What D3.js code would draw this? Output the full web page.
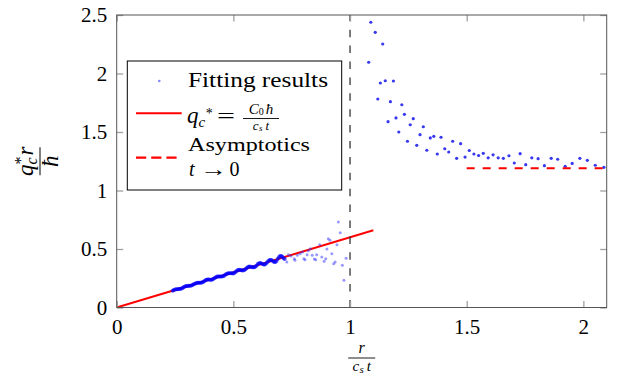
<!DOCTYPE html>
<html><head><meta charset="utf-8">
<script src="https://cdn.jsdelivr.net/npm/d3@7"></script>
<style>
body{margin:0;background:#fff}svg{display:block}
svg text{font-family:"Liberation Serif","DejaVu Serif","Times New Roman",Times,serif;}
</style>
</head><body>
<svg id="c" width="632" height="376"></svg>
<script>
// ---- data ----
const xTicks = [0, 0.5, 1, 1.5, 2];
const xTickLabels = ["0", "0.5", "1", "1.5", "2"];
const yTicks = [0, 0.5, 1, 1.5, 2, 2.5];
const yTickLabels = ["0", "0.5", "1", "1.5", "2", "2.5"];

const denseX = [0.240,0.245,0.250,0.255,0.260,0.265,0.270,0.275,0.280,0.285,0.290,0.295,0.300,0.305,0.310,0.315,0.320,0.325,0.330,0.335,0.340,0.345,0.350,0.355,0.360,0.365,0.370,0.375,0.380,0.385,0.390,0.395,0.400,0.405,0.410,0.415,0.420,0.425,0.430,0.435,0.440,0.445,0.450,0.455,0.460,0.465,0.470,0.475,0.480,0.485,0.490,0.495,0.500,0.505,0.510,0.515,0.520,0.525,0.530,0.535,0.540,0.545,0.550,0.555,0.560,0.565,0.570,0.575,0.580,0.585,0.590,0.595,0.600,0.605,0.610,0.615,0.620,0.625,0.630,0.635,0.640,0.645,0.650,0.655,0.660,0.665,0.670,0.675,0.680,0.685,0.690,0.695,0.700,0.705,0.710,0.715,0.720];
const denseY = [0.144,0.150,0.154,0.157,0.157,0.158,0.159,0.161,0.165,0.171,0.177,0.181,0.184,0.184,0.185,0.186,0.188,0.192,0.198,0.204,0.208,0.211,0.212,0.211,0.211,0.213,0.218,0.225,0.232,0.237,0.239,0.239,0.238,0.238,0.240,0.245,0.252,0.259,0.264,0.266,0.266,0.265,0.265,0.267,0.272,0.279,0.286,0.291,0.293,0.293,0.292,0.292,0.291,0.297,0.306,0.315,0.321,0.323,0.321,0.318,0.316,0.318,0.324,0.333,0.342,0.348,0.350,0.348,0.345,0.343,0.345,0.351,0.360,0.371,0.379,0.380,0.376,0.371,0.367,0.368,0.376,0.387,0.398,0.406,0.407,0.403,0.395,0.388,0.388,0.398,0.414,0.430,0.440,0.440,0.433,0.422,0.415];

const scatterX = [0.729,0.736,0.747,0.761,0.764,0.774,0.786,0.796,0.802,0.807,0.816,0.821,0.830,0.838,0.847,0.853,0.857,0.870,0.879,0.889,0.896,0.901,0.907,0.914,0.922,0.930,0.936,0.944,0.950,0.958,0.967,0.974,0.983];
const scatterY = [0.389,0.451,0.440,0.417,0.403,0.446,0.460,0.474,0.417,0.409,0.451,0.485,0.503,0.446,0.415,0.409,0.451,0.537,0.432,0.395,0.417,0.500,0.588,0.574,0.460,0.374,0.389,0.537,0.731,0.639,0.361,0.232,0.421];

const upperX = [1.080,1.089,1.108,1.119,1.130,1.140,1.151,1.163,1.173,1.186,1.197,1.209,1.222,1.233,1.246,1.258,1.271,1.286,1.300,1.314,1.329,1.344,1.359,1.374,1.390,1.406,1.423,1.440,1.457,1.474,1.493,1.511,1.531,1.551,1.571,1.592,1.613,1.635,1.657,1.681,1.704,1.729,1.753,1.779,1.806,1.833,1.862,1.890,1.922,1.952,1.985,2.017,2.051,2.088];
const upperY = [2.096,2.438,2.352,1.782,1.919,2.252,1.938,1.588,1.759,1.936,1.620,1.500,1.733,1.651,1.421,1.562,1.614,1.386,1.477,1.545,1.344,1.449,1.463,1.312,1.455,1.357,1.329,1.421,1.275,1.400,1.286,1.342,1.312,1.299,1.318,1.279,1.305,1.279,1.275,1.297,1.235,1.315,1.221,1.279,1.272,1.212,1.275,1.267,1.207,1.231,1.275,1.258,1.216,1.198];

const fitLineX = [0, 1.1];
const fitLineY = [0, 0.66];
const asymX = [1.5, 2.1];
const asymY = [1.19, 1.19];
const vlineX = [1, 1];
const vlineY = [0, 2.5];

// ---- chart ----
const svg = d3.select("#c");
const L = 116.7, R = 606.7, T = 15, B = 307.5;
const x = d3.scaleLinear().domain([0, 2.1]).range([L, R]);
const y = d3.scaleLinear().domain([0, 2.5]).range([B, T]);

svg.append("defs").append("clipPath").attr("id", "clip")
  .append("rect").attr("x", L).attr("y", T).attr("width", R - L).attr("height", B - T);

const line = d3.line().x(d => x(d[0])).y(d => y(d[1]));
const plot = svg.append("g").attr("clip-path", "url(#clip)");

// red fit line
plot.append("path").datum(d3.zip(fitLineX, fitLineY)).attr("d", line)
  .attr("stroke", "#ff0000").attr("stroke-width", 2).attr("fill", "none");

// fitting results
plot.append("g").selectAll("circle").data(d3.zip(denseX, denseY)).join("circle")
  .attr("cx", d => x(d[0])).attr("cy", d => y(d[1])).attr("r", 2)
  .attr("fill", "#0000ff").attr("fill-opacity", 0.65);
plot.append("g").selectAll("circle").data(d3.zip(scatterX, scatterY)).join("circle")
  .attr("cx", d => x(d[0])).attr("cy", d => y(d[1])).attr("r", 1.5)
  .attr("fill", "#3333ff").attr("fill-opacity", 0.5);
plot.append("g").selectAll("circle").data(d3.zip(upperX, upperY)).join("circle")
  .attr("cx", d => x(d[0])).attr("cy", d => y(d[1])).attr("r", 1.6)
  .attr("fill", "#2222ee").attr("fill-opacity", 0.9);

// asymptote
plot.append("path").datum(d3.zip(asymX, asymY)).attr("d", line)
  .attr("stroke", "#ff0000").attr("stroke-width", 2.2).attr("fill", "none")
  .attr("stroke-dasharray", "8,8");

// vertical dashed
plot.append("path").datum(d3.zip(vlineX, vlineY)).attr("d", line)
  .attr("stroke", "#333").attr("stroke-width", 1.3).attr("fill", "none")
  .attr("stroke-dasharray", "7.5,8.4");

// axes
function styleAxis(g) {
  g.attr("font-family", null);
  g.select(".domain").remove();
  g.selectAll(".tick line").attr("stroke", "#a0a0a0").attr("stroke-width", 1.3);
  g.selectAll(".tick text").attr("font-size", 21).attr("fill", "#000");
}
svg.append("g").attr("transform", `translate(0,${B})`)
  .call(d3.axisBottom(x).tickValues(xTicks).tickFormat((d, i) => xTickLabels[i]).tickSizeInner(-6.5).tickSizeOuter(0).tickPadding(12))
  .call(styleAxis);
svg.append("g").attr("transform", `translate(0,${T})`)
  .call(d3.axisTop(x).tickValues(xTicks).tickFormat("").tickSizeInner(-6.5).tickSizeOuter(0))
  .call(styleAxis);
svg.append("g").attr("transform", `translate(${L},0)`)
  .call(d3.axisLeft(y).tickValues(yTicks).tickFormat((d, i) => yTickLabels[i]).tickSizeInner(-6.5).tickSizeOuter(0).tickPadding(9.5))
  .call(styleAxis);
svg.append("g").attr("transform", `translate(${R},0)`)
  .call(d3.axisRight(y).tickValues(yTicks).tickFormat("").tickSizeInner(-6.5).tickSizeOuter(0))
  .call(styleAxis);

svg.append("rect").attr("x", L).attr("y", T).attr("width", R - L).attr("height", B - T)
  .attr("fill", "none").attr("stroke", "#555").attr("stroke-width", 1);

// y label: q_c^* r / ħ
const yl = svg.append("g").attr("transform", `translate(40,${(T + B) / 2}) rotate(-90)`)
  .attr("font-style", "italic");
const ynum = yl.append("text").attr("x", 0).attr("y", -7).attr("text-anchor", "middle").attr("font-size", 23);
ynum.append("tspan").text("q");
ynum.append("tspan").attr("font-size", 16).attr("dy", 4).text("c");
ynum.append("tspan").attr("font-size", 16).attr("dy", -11).attr("dx", -7).attr("font-style", "normal").text("*");
ynum.append("tspan").attr("font-size", 23).attr("dy", 7).attr("dx", 1).text("r");
yl.append("line").attr("x1", -14).attr("x2", 14).attr("y1", 0).attr("y2", 0).attr("stroke", "#000").attr("stroke-width", 1);
yl.append("text").attr("x", 0).attr("y", 18).attr("text-anchor", "middle").attr("font-size", 23).text("ħ");

// x label: r / c_s t
const xc = (L + R) / 2;
const xl = svg.append("g").attr("font-style", "italic");
xl.append("text").attr("x", xc).attr("y", 353).attr("text-anchor", "middle").attr("font-size", 16).text("r");
xl.append("line").attr("x1", xc - 13.5).attr("x2", xc + 13.5).attr("y1", 358).attr("y2", 358).attr("stroke", "#000").attr("stroke-width", 0.9);
const xden = xl.append("text").attr("x", xc).attr("y", 371).attr("text-anchor", "middle").attr("font-size", 15);
xden.append("tspan").text("c");
xden.append("tspan").attr("font-size", 11).attr("dy", 2).attr("dx", 0.5).text("s");
xden.append("tspan").attr("dy", -2).attr("dx", 3).text("t");

// legend
const lg = svg.append("g");
lg.append("rect").attr("x", 127.3).attr("y", 61).attr("width", 214.4).attr("height", 129)
  .attr("fill", "#fff").attr("stroke", "#000").attr("stroke-width", 1);
lg.append("circle").attr("cx", 159.3).attr("cy", 81).attr("r", 1.3).attr("fill", "#3333ff").attr("fill-opacity", 0.6);
lg.append("text").attr("x", 188).attr("y", 86.7).attr("font-size", 21)
  .attr("textLength", 140).attr("lengthAdjust", "spacingAndGlyphs").text("Fitting results");

lg.append("line").attr("x1", 136).attr("x2", 181.7).attr("y1", 113.3).attr("y2", 113.3)
  .attr("stroke", "#ff0000").attr("stroke-width", 2);
const lq = lg.append("text").attr("x", 187).attr("y", 123).attr("font-style", "italic").attr("font-size", 23);
lq.append("tspan").text("q");
lq.append("tspan").attr("font-size", 15).attr("dy", 4).text("c");
lq.append("tspan").attr("font-size", 14).attr("dy", -9).attr("dx", 0.5).attr("font-style", "normal").text("*");
lg.append("text").attr("x", 217).attr("y", 123).attr("font-size", 22)
  .attr("textLength", 18).attr("lengthAdjust", "spacingAndGlyphs").text("=");
const fn = lg.append("text").attr("x", 261).attr("y", 114).attr("text-anchor", "middle").attr("font-style", "italic").attr("font-size", 15);
fn.append("tspan").text("C");
fn.append("tspan").attr("font-size", 10).attr("dy", 1).attr("font-style", "normal").text("0");
fn.append("tspan").attr("dy", -1).attr("dx", 2).text("ħ");
lg.append("line").attr("x1", 243).attr("x2", 279).attr("y1", 118.5).attr("y2", 118.5).attr("stroke", "#000").attr("stroke-width", 0.9);
const fd = lg.append("text").attr("x", 261).attr("y", 130).attr("text-anchor", "middle").attr("font-style", "italic").attr("font-size", 13);
fd.append("tspan").text("c");
fd.append("tspan").attr("font-size", 9).attr("dy", 1).attr("dx", 0.5).text("s");
fd.append("tspan").attr("dy", -1).attr("dx", 3).text("t");

lg.append("line").attr("x1", 136).attr("x2", 176.7).attr("y1", 157.7).attr("y2", 157.7)
  .attr("stroke", "#ff0000").attr("stroke-width", 2.2).attr("stroke-dasharray", "10.2,5");
lg.append("text").attr("x", 188).attr("y", 151).attr("font-size", 19)
  .attr("textLength", 122).attr("lengthAdjust", "spacingAndGlyphs").text("Asymptotics");
lg.append("text").attr("x", 189).attr("y", 175.5).attr("font-style", "italic").attr("font-size", 20).text("t");
lg.append("text").attr("x", 200).attr("y", 175.5).attr("font-size", 20)
  .attr("textLength", 27).attr("lengthAdjust", "spacingAndGlyphs").text("→");
lg.append("text").attr("x", 229.5).attr("y", 175.5).attr("font-size", 20).text("0");
</script>
</body></html>
